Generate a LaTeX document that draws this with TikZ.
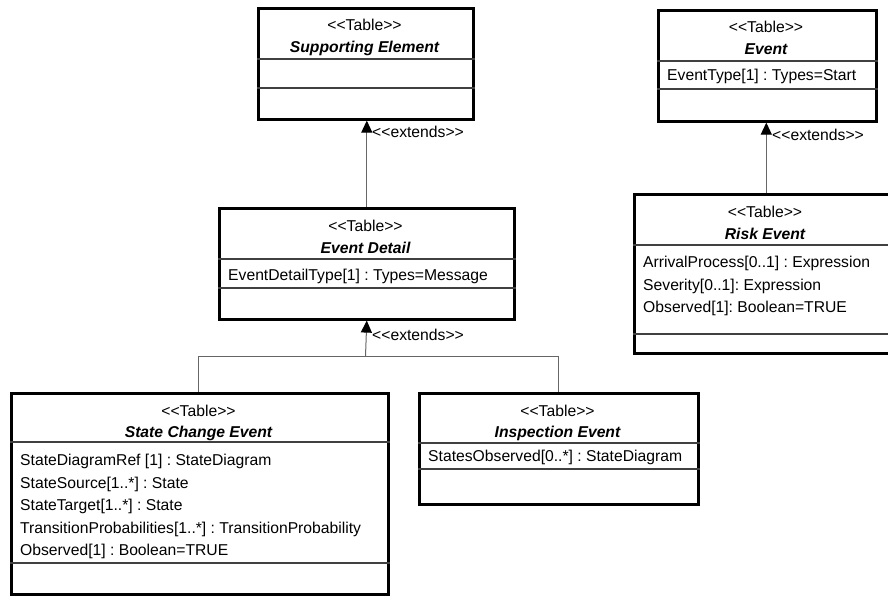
\documentclass[tikz,border=0pt]{standalone}
\usepackage{fontspec}
\setmainfont{Liberation Sans}
\usetikzlibrary{arrows.meta}
\newcommand\lt{<\kern0pt<}
\newcommand\gt{>\kern0pt>}
\frenchspacing
\tikzset{
  umlbox/.style={draw, line width=2.6pt, rectangle, inner sep=0pt, anchor=north west},
  sepline/.style={line width=1.1pt, draw=black!75},
  conn/.style={line width=1pt, draw=black!60},
  ext/.style={conn, -{Triangle[length=12pt,width=11pt,fill=black,color=black]}},
  txt/.style={font=\fontsize{15.7}{18}\selectfont, inner sep=0pt},
  stereo/.style={txt, anchor=base},
  tname/.style={txt, font=\fontsize{15.7}{18}\selectfont\bfseries\itshape, anchor=base},
  attr/.style={txt, anchor=base west},
  lbl/.style={txt, anchor=base west}
}
\begin{document}
\frenchspacing
\begin{tikzpicture}[x=1pt,y=-1pt]
\useasboundingbox (0,0) rectangle (888,596);

% Supporting Element
\node[umlbox, minimum width=215pt, minimum height=111pt] (se) at (257,7) {};
\draw[sepline] ([yshift=-52pt]se.north west) -- ([yshift=-52pt]se.north east);
\draw[sepline] ([yshift=-81pt]se.north west) -- ([yshift=-81pt]se.north east);
\node[stereo] (se-s) at (364.5,31) {\lt Table\gt};
\node[tname] (se-n) at (364.5,53) {Supporting Element};

% Event
\node[umlbox, minimum width=218pt, minimum height=111pt] (ev) at (657,9) {};
\draw[sepline] ([yshift=-52pt]ev.north west) -- ([yshift=-52pt]ev.north east);
\draw[sepline] ([yshift=-80pt]ev.north west) -- ([yshift=-80pt]ev.north east);
\node[stereo] (ev-s) at (766,33) {\lt Table\gt};
\node[tname] (ev-n) at (766,55) {Event};
\node[attr] (ev-a) at (667,81) {EventType[1] : Types=Start};

% Event Detail
\node[umlbox, minimum width=295pt, minimum height=111pt] (ed) at (218,207) {};
\draw[sepline] ([yshift=-52pt]ed.north west) -- ([yshift=-52pt]ed.north east);
\draw[sepline] ([yshift=-81pt]ed.north west) -- ([yshift=-81pt]ed.north east);
\node[stereo] (ed-s) at (365.5,231) {\lt Table\gt};
\node[tname] (ed-n) at (365.5,253) {Event Detail};
\node[attr] (ed-a) at (228,280) {EventDetailType[1] : Types=Message};

% Risk Event
\node[umlbox, minimum width=264pt, minimum height=159pt] (re) at (633,193) {};
\draw[sepline] ([yshift=-52pt]re.north west) -- ([yshift=-52pt]re.north east);
\draw[sepline] ([yshift=-141pt]re.north west) -- ([yshift=-141pt]re.north east);
\node[stereo] (re-s) at (765,217) {\lt Table\gt};
\node[tname] (re-n) at (765,239) {Risk Event};
\node[attr] (re-a1) at (643,267.5) {ArrivalProcess[0..1] : Expression};
\node[attr] (re-a2) at (643,290) {Severity[0..1]: Expression};
\node[attr] (re-a3) at (643,312.5) {Observed[1]: Boolean=TRUE};

% State Change Event
\node[umlbox, minimum width=377pt, minimum height=201pt] (sc) at (10,392) {};
\draw[sepline] ([yshift=-50pt]sc.north west) -- ([yshift=-50pt]sc.north east);
\draw[sepline] ([yshift=-171pt]sc.north west) -- ([yshift=-171pt]sc.north east);
\node[stereo] (sc-s) at (198.5,416) {\lt Table\gt};
\node[tname] (sc-n) at (198.5,437) {State Change Event};
\node[attr] (sc-a1) at (20,465.5) {StateDiagramRef [1] : StateDiagram};
\node[attr] (sc-a2) at (20,488) {StateSource[1..*] : State};
\node[attr] (sc-a3) at (20,510.5) {StateTarget[1..*] : State};
\node[attr] (sc-a4) at (20,533) {TransitionProbabilities[1..*] : TransitionProbability};
\node[attr] (sc-a5) at (20,555.5) {Observed[1] : Boolean=TRUE};

% Inspection Event
\node[umlbox, minimum width=279pt, minimum height=111pt] (ie) at (418,392) {};
\draw[sepline] ([yshift=-51pt]ie.north west) -- ([yshift=-51pt]ie.north east);
\draw[sepline] ([yshift=-77pt]ie.north west) -- ([yshift=-77pt]ie.north east);
\node[stereo] (ie-s) at (557.5,416) {\lt Table\gt};
\node[tname] (ie-n) at (557.5,437) {Inspection Event};
\node[attr] (ie-a) at (428,461.5) {StatesObserved[0..*] : StateDiagram};

% Connectors
\draw[ext] (ed.north) -- (ed.north |- se.south);
\draw[ext] (re.north) -- (re.north |- ev.south);
\coordinate (j) at (365.5,356);
\coordinate (jl) at (198,356);
\coordinate (jr) at (558,356);
\draw[conn] (sc.north -| jl) -- (jl) -- (jr) -- (ie.north -| jr);
\draw[ext] (j) -- (ed.south);

% Labels
\node[lbl] (l1) at (372,137.5) {\lt extends\gt};
\node[lbl] (l2) at (772,140.5) {\lt extends\gt};
\node[lbl] (l3) at (372,340.5) {\lt extends\gt};
\end{tikzpicture}
\end{document}
